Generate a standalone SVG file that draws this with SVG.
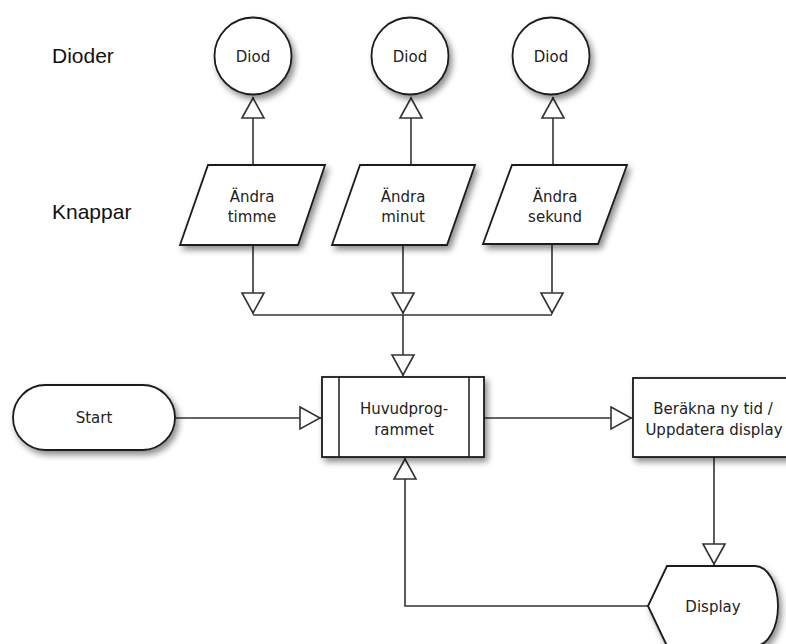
<svg xmlns="http://www.w3.org/2000/svg" width="786" height="644" viewBox="0 0 786 644">
<style>
.bg{fill:#ffffff}
.shape{fill:#ffffff;stroke:#1a1a1a;stroke-width:1.8;filter:url(#shadow)}
.inner{fill:none;stroke:#1a1a1a;stroke-width:1.5}
.conn{fill:none;stroke:#333333;stroke-width:1.6;marker-end:url(#open)}
.plain{fill:none;stroke:#333333;stroke-width:1.6}
.lbl{font-family:"Liberation Sans",Arial,sans-serif;font-size:21px;fill:#111111}
.txt{font-family:"DejaVu Sans","Liberation Sans",sans-serif;font-size:15px;fill:#222222;text-anchor:middle}
</style>
<defs>
<filter id="shadow" x="-20%" y="-20%" width="150%" height="160%">
<feDropShadow dx="3" dy="4" stdDeviation="3" flood-color="#000000" flood-opacity="0.45"/>
</filter>
<marker id="open" viewBox="0 0 22 24" refX="22" refY="12" markerWidth="22" markerHeight="24" markerUnits="userSpaceOnUse" orient="auto" overflow="visible">
<path d="M1,1 L21,12 L1,23 Z" fill="#ffffff" stroke="#333333" stroke-width="1.6" stroke-linejoin="miter"/>
</marker>
</defs>
<rect class="bg" x="0" y="0" width="786" height="644"/>

<text class="lbl" x="52" y="63">Dioder</text>
<text class="lbl" x="52" y="219">Knappar</text>

<g id="connectors">
<line class="conn" x1="253" y1="165" x2="253" y2="97"/>
<line class="conn" x1="411" y1="165" x2="411" y2="97"/>
<line class="conn" x1="553" y1="165" x2="553" y2="97"/>
<line class="conn" x1="253" y1="245" x2="253" y2="314"/>
<line class="conn" x1="403" y1="245" x2="403" y2="314"/>
<line class="conn" x1="552" y1="244" x2="552" y2="314"/>
<line class="plain" x1="253" y1="315" x2="552" y2="315"/>
<line class="conn" x1="403" y1="315" x2="403" y2="376"/>
<line class="conn" x1="175" y1="418" x2="321" y2="418"/>
<line class="conn" x1="484" y1="418" x2="632" y2="418"/>
<line class="conn" x1="714" y1="457" x2="714" y2="565"/>
<polyline class="conn" points="648,606 405,606 405,458"/>
</g>

<g id="diod1"><circle class="shape" cx="253" cy="56" r="38.5"/><text class="txt" x="253" y="62">Diod</text></g>
<g id="diod2"><circle class="shape" cx="410" cy="56" r="38.5"/><text class="txt" x="410" y="62">Diod</text></g>
<g id="diod3"><circle class="shape" cx="551" cy="56" r="38.5"/><text class="txt" x="551" y="62">Diod</text></g>

<g id="knapp-timme"><polygon class="shape" points="208,165 325,165 298,245 180,245"/><text class="txt" x="252" y="202">Ändra</text><text class="txt" x="252" y="222">timme</text></g>
<g id="knapp-minut"><polygon class="shape" points="360,165 475,165 447,245 332,245"/><text class="txt" x="403" y="202">Ändra</text><text class="txt" x="403" y="222">minut</text></g>
<g id="knapp-sekund"><polygon class="shape" points="512,165 627,165 598,244 483,244"/><text class="txt" x="555" y="202">Ändra</text><text class="txt" x="555" y="222">sekund</text></g>

<g id="start"><rect class="shape" x="13" y="385" width="162" height="65" rx="32.5" ry="32.5"/><text class="txt" x="94" y="423">Start</text></g>

<g id="huvudprogrammet"><rect class="shape" x="322" y="377" width="162" height="80"/><line class="inner" x1="339" y1="377" x2="339" y2="457"/><line class="inner" x1="469" y1="377" x2="469" y2="457"/><text class="txt" x="404" y="414">Huvudprog-</text><text class="txt" x="404" y="435">rammet</text></g>

<g id="berakna"><rect class="shape" x="633" y="378" width="162" height="79"/><text class="txt" x="713" y="414">Beräkna ny tid /</text><text class="txt" x="714" y="435">Uppdatera display</text></g>

<g id="display"><path class="shape" d="M667,566 L755,566 A23,40 0 0 1 755,646 L667,646 L648,606 Z"/><text class="txt" x="713" y="612">Display</text></g>
</svg>
